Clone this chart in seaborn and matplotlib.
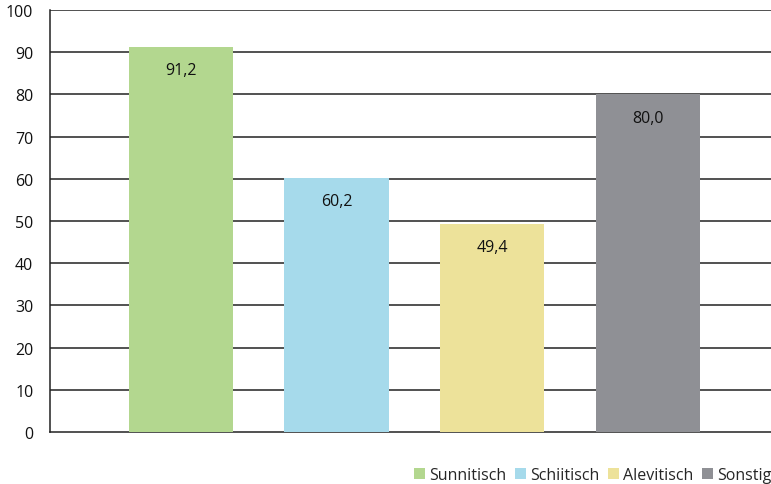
import matplotlib
matplotlib.use("Agg")
import matplotlib.pyplot as plt
import seaborn as sns
import pandas as pd
from matplotlib.patches import Patch

categories = ["Sunnitisch", "Schiitisch", "Alevitisch", "Sonstig"]
values = [91.2, 60.2, 49.4, 80.0]
colors = ["#b3d78f", "#a6daeb", "#ede29a", "#8f9095"]
yticks = [0, 10, 20, 30, 40, 50, 60, 70, 80, 90, 100]

sns.set_style("white")
plt.rcParams["font.family"] = ["Open Sans", "DejaVu Sans"]

df = pd.DataFrame({"Gruppe": categories, "Wert": values})

fig = plt.figure(figsize=(7.71, 4.85), dpi=100)
ax = fig.add_axes([0.0649, 0.1072, 0.9351, 0.8701])

sns.barplot(data=df, x="Gruppe", y="Wert", hue="Gruppe", palette=colors,
            width=0.67, saturation=1, legend=False, ax=ax, zorder=3,
            linewidth=0, edgecolor="none")

ax.set_ylim(0, 100)
ax.set_xlim(-0.84, 3.79)
ax.set_yticks(yticks)
ax.set_yticklabels([str(t) for t in yticks], fontsize=11.5, color="#111111")
ax.set_xticks([])
ax.set_xlabel("")
ax.set_ylabel("")
ax.tick_params(axis="y", length=0, pad=12)

for t in yticks[1:]:
    ax.axhline(t, color="#222222", linewidth=1.1, zorder=1)

for side in ["top", "right"]:
    ax.spines[side].set_visible(False)
ax.spines["left"].set_color("#222222")
ax.spines["bottom"].set_color("#222222")
ax.spines["left"].set_linewidth(1.1)
ax.spines["bottom"].set_linewidth(1.1)

for i, v in enumerate(values):
    ax.text(i, v - 5.5, f"{v:.1f}".replace(".", ","), ha="center", va="center",
            fontsize=11.5, color="#111111", zorder=4)

handles = [Patch(facecolor=c, edgecolor="none") for c in colors]
fig.legend(handles, categories, loc="center right", bbox_to_anchor=(1.0, 0.019),
           ncol=4, frameon=False, fontsize=11.5, handlelength=0.69,
           handleheight=0.69, handletextpad=0.25, columnspacing=0.55,
           borderpad=0, borderaxespad=0)

fig.savefig("out.png", dpi=100)
